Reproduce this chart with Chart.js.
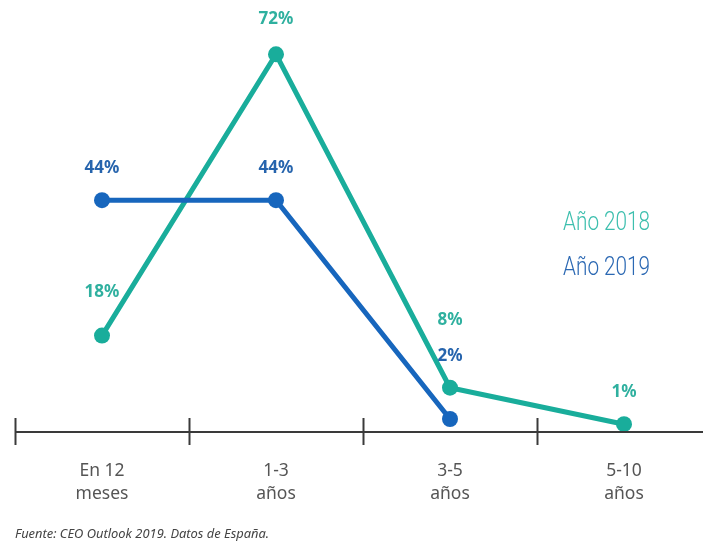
<!DOCTYPE html>
<html>
<head>
<meta charset="utf-8">
<script src="https://cdn.jsdelivr.net/npm/chart.js@4"></script>
<style>
  html,body{margin:0;padding:0;background:#fff}
  #wrap{width:703px;height:543px;position:relative;overflow:hidden}
</style>
</head>
<body>
<div id="wrap"><canvas id="c" width="719" height="543"></canvas></div>
<script>
// ── Horizonte de crecimiento: CEO Outlook 2018 vs 2019 ─────────────────────
const categories = [["En 12","meses"],["1-3","años"],["3-5","años"],["5-10","años"]];
const serie2018 = [18, 72, 8, 1];
const serie2019 = [44, 44, 2, null];
const seriesNames = ["Año 2018","Año 2019"];
const SOURCE = "Fuente: CEO Outlook 2019. Datos de España.";

const C = { teal:"#19ad9b", blue:"#1766bd", tealTxt:"#2fb09f", blueTxt:"#2664ad",
            legTeal:"#3dbfae", legBlue:"#2b68b3", axis:"#3a3a3a", ink:"#555" };

// label offsets above each point (px), per series
const lblOff2018 = [43, 35, 68, 32];
const lblOff2019 = [32, 32, 63, 0];

const axisAndLabels = {
  id:"axisAndLabels",
  afterDatasetsDraw(chart){
    const {ctx, chartArea:a, scales:{x}} = chart;
    ctx.save();
    // baseline + tick marks between categories
    ctx.strokeStyle = C.axis; ctx.lineWidth = 2;
    ctx.beginPath(); ctx.moveTo(a.left, a.bottom); ctx.lineTo(a.right, a.bottom); ctx.stroke();
    const n = categories.length;
    const step = x.getPixelForValue(1) - x.getPixelForValue(0);
    for(let i=0;i<=n;i++){
      const px = i<n ? x.getPixelForValue(i) - step/2 : x.getPixelForValue(n-1) + step/2;
      ctx.beginPath(); ctx.moveTo(Math.round(px)+0.5, a.bottom-14); ctx.lineTo(Math.round(px)+0.5, a.bottom+13); ctx.stroke();
    }
    // category labels
    ctx.fillStyle = C.ink; ctx.font = "17.5px 'Noto Sans'"; ctx.textAlign = "center"; ctx.textBaseline = "middle";
    categories.forEach((lines,i)=>{
      const px = x.getPixelForValue(i);
      lines.forEach((t,k)=>ctx.fillText(t, px, a.bottom + 39 + k*23));
    });
    // value labels
    ctx.font = "bold 17px 'Noto Sans'";
    const drawVals = (di, col, offs)=>{
      chart.getDatasetMeta(di).data.forEach((pt,i)=>{
        const v = chart.data.datasets[di].data[i];
        if(v==null) return;
        ctx.fillStyle = col;
        ctx.fillText(v+"%", pt.x, pt.y - offs[i]);
      });
    };
    drawVals(0, C.tealTxt, lblOff2018);
    drawVals(1, C.blueTxt, lblOff2019);
    // legend
    ctx.font = "300 25px Roboto"; ctx.textAlign = "left";
    [[seriesNames[0], C.legTeal, 224],[seriesNames[1], C.legBlue, 269]].forEach(([t,col,y])=>{
      ctx.save(); ctx.translate(563, y); ctx.scale(0.83, 1);
      ctx.fillStyle = col; ctx.fillText(t, 0, 0); ctx.restore();
    });
    // source
    ctx.font = "italic 12.9px 'Noto Sans'"; ctx.fillStyle = "#444"; ctx.textBaseline = "alphabetic";
    ctx.fillText(SOURCE, 15, 538);
    ctx.restore();
  }
};

new Chart(document.getElementById("c"), {
  type:"line",
  data:{ labels:categories.map(l=>l.join(" ")), datasets:[
    { label:seriesNames[0], data:serie2018, borderColor:C.teal, backgroundColor:C.teal,
      borderWidth:5, pointRadius:8, pointHoverRadius:8, pointBorderWidth:0, tension:0, clip:false, order:2 },
    { label:seriesNames[1], data:serie2019, borderColor:C.blue, backgroundColor:C.blue,
      borderWidth:5, pointRadius:8, pointHoverRadius:8, pointBorderWidth:0, tension:0, clip:false, order:1 },
  ]},
  options:{
    responsive:false, animation:false,
    layout:{ padding:{ left:15, right:0, top:10, bottom:111 } },
    plugins:{ legend:{ display:false }, tooltip:{ enabled:false } },
    scales:{
      x:{ display:false, offset:true },
      y:{ display:false, min:-0.5, max:80.5 }
    }
  },
  plugins:[axisAndLabels]
});
</script>
</body>
</html>
